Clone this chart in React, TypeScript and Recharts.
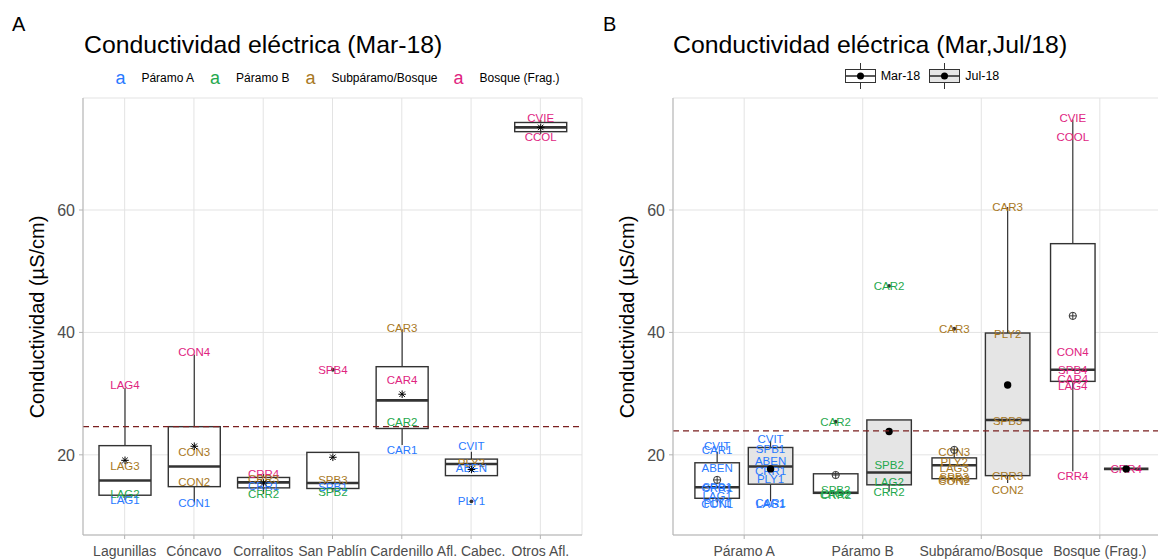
import React from 'react';
import { ComposedChart, Bar, XAxis, YAxis, CartesianGrid, ReferenceLine } from 'recharts';

type Zone = 'PA' | 'PB' | 'SB' | 'BF';
type Pt = [string, number, Zone];
type Box = { lo: number; q1: number; med: number; q3: number; hi: number; mean: number; out: number[]; pts: Pt[] };
type Mark = 'star' | 'cross' | 'dot';

const FONT = '"Liberation Sans", Arial, Helvetica, sans-serif';
const INK = '#333333';
const GRID = '#E3E3E3';
const BORDER = '#B3B3B3';
const TICK = '#4D4D4D';
const REF = '#7A1F1F';

const zoneColor: Record<Zone, string> = {
  PA: '#2979FF',
  PB: '#1FA84D',
  SB: '#A8781E',
  BF: '#E0247F',
};
const zoneNames: [Zone, string][] = [
  ['PA', 'Páramo A'],
  ['PB', 'Páramo B'],
  ['SB', 'Subpáramo/Bosque'],
  ['BF', 'Bosque (Frag.)'],
];

// shared y range, µS/cm
const Y_MIN = 6.9;
const Y_MAX = 78.3;
const yTicks = [20, 40, 60];

// ---- A: Mar-18 by site ----
const sitesA = ['Lagunillas', 'Cóncavo', 'Corralitos', 'San Pablín', 'Cardenillo', 'Afl. Cabec.', 'Otros Afl.'];
const loA = [12.6, 12.2, 13.6, 13.9, 21.6, 16.6, 72.4];
const q1A = [13.4, 14.8, 14.6, 14.5, 24.3, 16.6, 72.8];
const medA = [15.8, 18.1, 15.5, 15.4, 28.9, 18.5, 73.5];
const q3A = [21.5, 24.6, 16.3, 20.4, 34.4, 19.3, 74.3];
const hiA = [30.9, 36.4, 16.9, 20.4, 40.5, 20.5, 74.7];
const meanA = [19.1, 21.4, 15.4, 19.6, 29.9, 17.6, 73.5];
const outA = [[], [], [], [33.9], [], [12.4], []];
const ptsA: Pt[][] = [
  [['LAG4', 31.4, 'BF'], ['LAG3', 18.2, 'SB'], ['LAG2', 13.6, 'PB'], ['LAG1', 12.6, 'PA']],
  [['CON4', 36.8, 'BF'], ['CON3', 20.4, 'SB'], ['CON2', 15.5, 'SB'], ['CON1', 12.2, 'PA']],
  [['CRR4', 16.9, 'BF'], ['CRR3', 16.1, 'SB'], ['CRR1', 14.9, 'PA'], ['CRR2', 13.6, 'PB']],
  [['SPB4', 33.9, 'BF'], ['SPB3', 15.9, 'SB'], ['SPB1', 14.8, 'PA'], ['SPB2', 13.9, 'PB']],
  [['CAR3', 40.7, 'SB'], ['CAR4', 32.2, 'BF'], ['CAR2', 25.3, 'PB'], ['CAR1', 20.8, 'PA']],
  [['CVIT', 21.4, 'PA'], ['PLY2', 18.6, 'SB'], ['ABEN', 17.8, 'PA'], ['PLY1', 12.4, 'PA']],
  [['CVIE', 75.1, 'BF'], ['CCOL', 72.0, 'BF']],
];
const refA = 24.6;

// ---- B: Mar-18 vs Jul-18 by zone ----
const zonesB = ['Páramo A', 'Páramo B', 'Subpáramo/Bosque', 'Bosque (Frag.)'];
const loMar = [12.2, 13.6, 15.5, 17.3];
const q1Mar = [12.9, 13.7, 16.1, 32.0];
const medMar = [14.7, 13.8, 18.3, 33.9];
const q3Mar = [18.7, 16.9, 19.5, 54.5];
const hiMar = [20.5, 16.9, 20.4, 74.8];
const meanMar = [15.9, 16.7, 20.8, 42.7];
const outMar = [[], [25.4], [40.6], []];
const ptsMar: Pt[][] = [
  [['CVIT', 21.5, 'PA'], ['CAR1', 20.8, 'PA'], ['ABEN', 17.9, 'PA'], ['SPB1', 14.8, 'PA'], ['CRR1', 14.6, 'PA'], ['LAG1', 13.2, 'PA'], ['CON1', 12.0, 'PA'], ['PLY1', 12.1, 'PA']],
  [['CAR2', 25.4, 'PB'], ['SPB2', 14.3, 'PB'], ['LAG2', 13.6, 'PB'], ['CRR2', 13.5, 'PB']],
  [['CAR3', 40.6, 'SB'], ['CON3', 20.5, 'SB'], ['PLY2', 18.9, 'SB'], ['LAG3', 17.8, 'SB'], ['SPB3', 16.4, 'SB'], ['CRR3', 16.0, 'SB'], ['CON2', 15.8, 'SB']],
  [['CVIE', 75.0, 'BF'], ['COOL', 72.0, 'BF'], ['CON4', 36.8, 'BF'], ['SPB4', 33.8, 'BF'], ['CAR4', 32.4, 'BF'], ['LAG4', 31.3, 'BF'], ['CRR4', 16.6, 'BF']],
];
const loJul = [12.4, 14.0, 15.4, 17.7];
const q1Jul = [15.2, 15.1, 16.6, 17.7];
const medJul = [18.1, 17.1, 25.7, 17.7];
const q3Jul = [21.2, 25.7, 39.9, 17.7];
const hiJul = [22.3, 25.7, 60.5, 17.7];
const meanJul = [17.7, 23.8, 31.4, 17.7];
const outJul = [[], [47.6], [], []];
const ptsJul: Pt[][] = [
  [['CVIT', 22.6, 'PA'], ['SPB1', 21.0, 'PA'], ['ABEN', 19.0, 'PA'], ['CRR1', 17.4, 'PA'], ['PLY1', 16.0, 'PA'], ['CAR1', 12.1, 'PA'], ['LAG1', 11.9, 'PA']],
  [['CAR2', 47.6, 'PB'], ['SPB2', 18.4, 'PB'], ['LAG2', 15.6, 'PB'], ['CRR2', 14.0, 'PB']],
  [['CAR3', 60.5, 'SB'], ['PLY2', 39.7, 'SB'], ['SPB3', 25.6, 'SB'], ['CRR3', 16.6, 'SB'], ['CON2', 14.3, 'SB']],
  [['CRR4', 17.7, 'BF']],
];
const refB = 23.9;

const rowsA = sitesA.map((name, i) => ({
  name,
  a: { lo: loA[i], q1: q1A[i], med: medA[i], q3: q3A[i], hi: hiA[i], mean: meanA[i], out: outA[i], pts: ptsA[i] },
}));
const rowsB = zonesB.map((name, i) => ({
  name,
  mar: { lo: loMar[i], q1: q1Mar[i], med: medMar[i], q3: q3Mar[i], hi: hiMar[i], mean: meanMar[i], out: outMar[i], pts: ptsMar[i] },
  jul: { lo: loJul[i], q1: q1Jul[i], med: medJul[i], q3: q3Jul[i], hi: hiJul[i], mean: meanJul[i], out: outJul[i], pts: ptsJul[i] },
}));

// each bar spans the whole y range, so its rect gives the axis mapping for the box drawn inside it.
// separate accessors per series, otherwise recharts stacks both bars in one slot
const frameA = (): [number, number] => [Y_MIN, Y_MAX];
const frameMar = (): [number, number] => [Y_MIN, Y_MAX];
const frameJul = (): [number, number] => [Y_MIN, Y_MAX];

function meanMark(kind: Mark, x: number, y: number) {
  if (kind === 'star') {
    const s = 3.8;
    const d = s * 0.72;
    return (
      <g stroke="#000" strokeWidth={1}>
        <line x1={x - s} x2={x + s} y1={y} y2={y} />
        <line x1={x} x2={x} y1={y - s} y2={y + s} />
        <line x1={x - d} x2={x + d} y1={y - d} y2={y + d} />
        <line x1={x - d} x2={x + d} y1={y + d} y2={y - d} />
      </g>
    );
  }
  if (kind === 'cross') {
    const r = 3.6;
    return (
      <g stroke={INK} strokeWidth={1} fill="none">
        <circle cx={x} cy={y} r={r} />
        <line x1={x - r} x2={x + r} y1={y} y2={y} />
        <line x1={x} x2={x} y1={y - r} y2={y + r} />
      </g>
    );
  }
  return <circle cx={x} cy={y} r={3.7} fill="#000" />;
}

const boxShape = (key: string, fill: string, mark: Mark) => (p: any) => {
  const b: Box | undefined = p.payload?.[key];
  if (!b) return <g />;
  const toY = (v: number) => p.y + ((Y_MAX - v) / (Y_MAX - Y_MIN)) * p.height;
  const cx = p.x + p.width / 2;
  const left = p.x;
  const right = p.x + p.width;
  return (
    <g>
      <line x1={cx} x2={cx} y1={toY(b.hi)} y2={toY(b.q3)} stroke={INK} strokeWidth={1.2} />
      <line x1={cx} x2={cx} y1={toY(b.q1)} y2={toY(b.lo)} stroke={INK} strokeWidth={1.2} />
      <rect x={left} y={toY(b.q3)} width={p.width} height={Math.max(toY(b.q1) - toY(b.q3), 0)} fill={fill} stroke={INK} strokeWidth={1.4} />
      <line x1={left} x2={right} y1={toY(b.med)} y2={toY(b.med)} stroke={INK} strokeWidth={2.6} />
      {b.out.map((v, i) => (
        <circle key={`o${i}`} cx={cx} cy={toY(v)} r={1.9} fill={INK} />
      ))}
      {b.pts.map(([label, v, zone], i) => (
        <text
          key={`t${i}`}
          x={cx}
          y={toY(v)}
          textAnchor="middle"
          dominantBaseline="central"
          fontSize={11.5}
          fontFamily={FONT}
          fill={zoneColor[zone]}
        >
          {label}
        </text>
      ))}
      {meanMark(mark, cx, toY(b.mean))}
    </g>
  );
};

const xTick = { fontSize: 14, fill: TICK, fontFamily: FONT };
const yTick = { fontSize: 16, fill: TICK, fontFamily: FONT };

function BoxKey({ fill }: { fill: string }) {
  return (
    <svg width={31} height={26} style={{ display: 'block' }}>
      <line x1={15.5} x2={15.5} y1={0} y2={26} stroke={INK} />
      <rect x={0.5} y={6.5} width={30} height={13} fill={fill} stroke={INK} />
      <line x1={0.5} x2={30.5} y1={13} y2={13} stroke={INK} strokeWidth={1.6} />
      <circle cx={15.5} cy={13} r={3.5} fill="#000" />
    </svg>
  );
}

const tagStyle: React.CSSProperties = { position: 'absolute', top: 14, fontSize: 20, lineHeight: 1, color: '#000' };
const titleStyle: React.CSSProperties = { position: 'absolute', top: 33, fontSize: 24.8, lineHeight: 1, whiteSpace: 'nowrap', color: '#000' };
const yTitleStyle: React.CSSProperties = {
  position: 'absolute',
  left: 37,
  top: 316.5,
  transform: 'translate(-50%, -50%) rotate(-90deg)',
  fontSize: 20,
  whiteSpace: 'nowrap',
  color: '#000',
};

function PanelA() {
  return (
    <div style={{ position: 'absolute', left: 0, top: 0, width: 590, height: 559 }}>
      <ComposedChart width={590} height={559} data={rowsA} margin={{ top: 98, right: 8, bottom: 0, left: 0 }}>
        <CartesianGrid stroke={GRID} />
        <XAxis
          dataKey="name"
          interval={0}
          padding={{ left: 7, right: 7 }}
          height={24}
          tickSize={4}
          tickMargin={7}
          tick={xTick}
          tickLine={{ stroke: BORDER }}
          axisLine={{ stroke: BORDER }}
        />
        <XAxis xAxisId="top" orientation="top" height={0} tick={false} tickLine={false} axisLine={{ stroke: BORDER }} />
        <YAxis
          type="number"
          domain={[Y_MIN, Y_MAX]}
          ticks={yTicks}
          allowDataOverflow
          width={83}
          tickSize={4}
          tickMargin={4}
          tick={yTick}
          tickLine={{ stroke: BORDER }}
          axisLine={{ stroke: BORDER }}
        />
        <YAxis yAxisId="right" orientation="right" width={0} tick={false} tickLine={false} axisLine={{ stroke: BORDER }} />
        <Bar dataKey={frameA} barSize={52} shape={boxShape('a', '#FFFFFF', 'star')} isAnimationActive={false} />
        <ReferenceLine y={refA} stroke={REF} strokeDasharray="6 4" strokeWidth={1.3} />
      </ComposedChart>
      <div style={{ ...tagStyle, left: 12 }}>A</div>
      <div style={{ ...titleStyle, left: 84 }}>Conductividad eléctrica (Mar-18)</div>
      <div
        style={{
          position: 'absolute',
          left: 83,
          top: 67,
          width: 499,
          height: 22,
          display: 'flex',
          justifyContent: 'center',
          alignItems: 'center',
        }}
      >
        {zoneNames.map(([z, label], i) => (
          <div key={z} style={{ display: 'flex', alignItems: 'center', marginRight: i < zoneNames.length - 1 ? 6 : 0 }}>
            <span style={{ width: 30, textAlign: 'center', fontSize: 18, color: zoneColor[z], lineHeight: '22px' }}>a</span>
            <span style={{ marginLeft: 6, fontSize: 12, color: '#000' }}>{label}</span>
          </div>
        ))}
      </div>
      <div style={yTitleStyle}>Conductividad (µS/cm)</div>
    </div>
  );
}

function PanelB() {
  return (
    <div style={{ position: 'absolute', left: 590, top: 0, width: 590, height: 559 }}>
      <ComposedChart width={590} height={559} data={rowsB} barGap={8.9} margin={{ top: 98, right: 9, bottom: 0, left: 0 }}>
        <CartesianGrid stroke={GRID} />
        <XAxis
          dataKey="name"
          interval={0}
          padding={{ left: 11.9, right: 11.9 }}
          height={24}
          tickSize={4}
          tickMargin={7}
          tick={xTick}
          tickLine={{ stroke: BORDER }}
          axisLine={{ stroke: BORDER }}
        />
        <XAxis xAxisId="top" orientation="top" height={0} tick={false} tickLine={false} axisLine={{ stroke: BORDER }} />
        <YAxis
          type="number"
          domain={[Y_MIN, Y_MAX]}
          ticks={yTicks}
          allowDataOverflow
          width={83}
          tickSize={4}
          tickMargin={4}
          tick={yTick}
          tickLine={{ stroke: BORDER }}
          axisLine={{ stroke: BORDER }}
        />
        <YAxis yAxisId="right" orientation="right" width={0} tick={false} tickLine={false} axisLine={{ stroke: BORDER }} />
        <Bar dataKey={frameMar} barSize={44.5} shape={boxShape('mar', '#FFFFFF', 'cross')} isAnimationActive={false} />
        <Bar dataKey={frameJul} barSize={44.5} shape={boxShape('jul', '#E5E5E5', 'dot')} isAnimationActive={false} />
        <ReferenceLine y={refB} stroke={REF} strokeDasharray="6 4" strokeWidth={1.3} />
      </ComposedChart>
      <div style={{ ...tagStyle, left: 13 }}>B</div>
      <div style={{ ...titleStyle, left: 83 }}>Conductividad eléctrica (Mar,Jul/18)</div>
      <div
        style={{
          position: 'absolute',
          left: 83,
          top: 63,
          width: 498,
          height: 26,
          display: 'flex',
          justifyContent: 'center',
          alignItems: 'center',
          fontSize: 12.5,
          color: '#000',
        }}
      >
        <BoxKey fill="#FFFFFF" />
        <span style={{ marginLeft: 5, marginRight: 9 }}>Mar-18</span>
        <BoxKey fill="#E5E5E5" />
        <span style={{ marginLeft: 5 }}>Jul-18</span>
      </div>
      <div style={yTitleStyle}>Conductividad (µS/cm)</div>
    </div>
  );
}

export default function App() {
  return (
    <div
      style={{
        position: 'fixed',
        left: 0,
        top: 0,
        width: 1158,
        height: 559,
        overflow: 'hidden',
        background: '#FFFFFF',
        fontFamily: FONT,
      }}
    >
      <PanelA />
      <PanelB />
    </div>
  );
}
